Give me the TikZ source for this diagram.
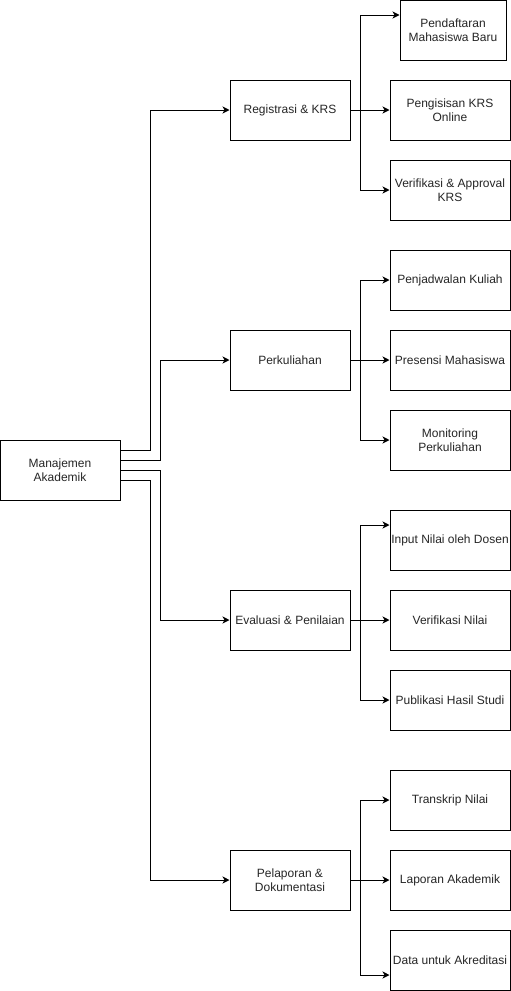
\documentclass[tikz,border=0pt]{standalone}
\usepackage{fontspec}
\setmainfont{Liberation Sans}
\usetikzlibrary{arrows.meta}
\begin{document}
\begin{tikzpicture}[x=1pt,y=-1pt,
  box/.style={draw=black, line width=1pt, fill=white, minimum width=120pt, minimum height=60pt,
    inner sep=1pt, align=center, font=\fontsize{12pt}{14.5pt}\selectfont, text=black!85},
  arr/.style={draw=black, line width=1pt, -{Stealth[length=7pt,width=7pt,inset=2pt]}}]
\useasboundingbox (0,0) rectangle (511,991);
% root
\node[box] (main) at (60,470) {Manajemen\\Akademik};
% level 1
\node[box] (reg)  at (290,110) {Registrasi \& KRS};
\node[box] (perk) at (290,360) {Perkuliahan};
\node[box] (eval) at (290,620) {Evaluasi \& Penilaian};
\node[box] (pel)  at (290,880) {Pelaporan \&\\Dokumentasi};
% level 2
\node[box, minimum width=106pt] (pend) at (453,30) {Pendaftaran\\Mahasiswa Baru};
\node[box] (peng) at (450,110) {Pengisisan KRS\\Online};
\node[box] (verk) at (450,190) {Verifikasi \& Approval\\KRS};
\node[box] (jad)  at (450,280) {Penjadwalan Kuliah};
\node[box] (pres) at (450,360) {Presensi Mahasiswa};
\node[box] (mon)  at (450,440) {Monitoring\\Perkuliahan};
\node[box] (inp)  at (450,540) {Input Nilai oleh Dosen};
\node[box] (vern) at (450,620) {Verifikasi Nilai};
\node[box] (pub)  at (450,700) {Publikasi Hasil Studi};
\node[box] (tra)  at (450,800) {Transkrip Nilai};
\node[box] (lap)  at (450,880) {Laporan Akademik};
\node[box] (akr)  at (450,960) {Data untuk Akreditasi};
% root connectors
\draw[arr] ([yshift=20pt]main.east) -- ++(30,0) |- (reg.west);
\draw[arr] ([yshift=10pt]main.east) -- ++(40,0) |- (perk.west);
\draw[arr] (main.east) -- ++(40,0) |- (eval.west);
\draw[arr] ([yshift=-10pt]main.east) -- ++(30,0) |- (pel.west);
% registrasi
\draw[arr] (reg.east) -- ++(10,0) |- ([yshift=15pt]pend.west);
\draw[arr] (reg.east) -- (peng.west);
\draw[arr] (reg.east) -- ++(10,0) |- (verk.west);
% perkuliahan
\draw[arr] (perk.east) -- ++(10,0) |- (jad.west);
\draw[arr] (perk.east) -- (pres.west);
\draw[arr] (perk.east) -- ++(10,0) |- (mon.west);
% evaluasi
\draw[arr] (eval.east) -- ++(10,0) |- ([yshift=15pt]inp.west);
\draw[arr] (eval.east) -- (vern.west);
\draw[arr] (eval.east) -- ++(10,0) |- (pub.west);
% pelaporan
\draw[arr] (pel.east) -- ++(10,0) |- (tra.west);
\draw[arr] (pel.east) -- (lap.west);
\draw[arr] (pel.east) -- ++(10,0) |- ([yshift=-15pt]akr.west);
\end{tikzpicture}
\end{document}
